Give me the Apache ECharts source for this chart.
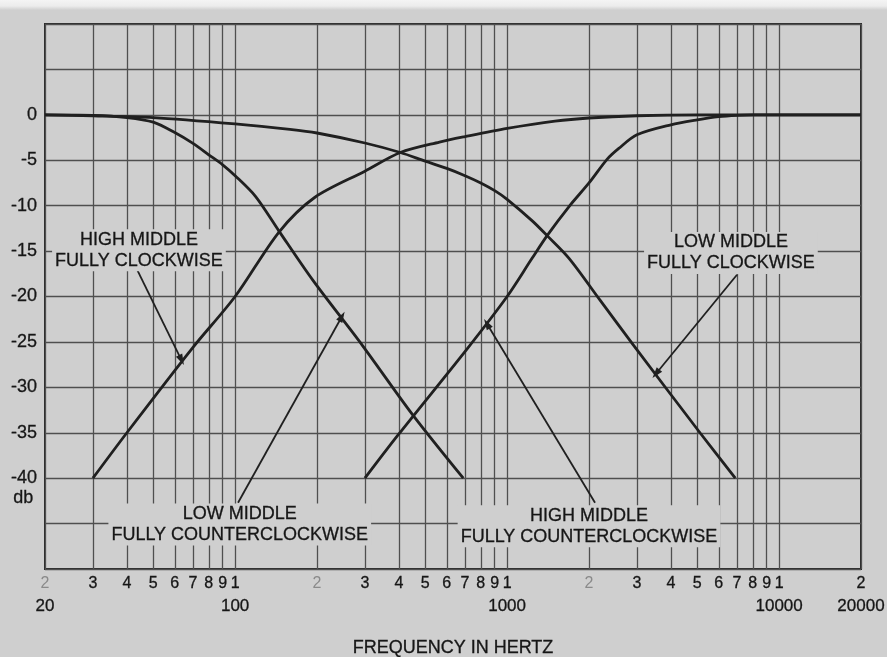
<!DOCTYPE html>
<html>
<head>
<meta charset="utf-8">
<script src="https://cdn.jsdelivr.net/npm/echarts@6/dist/echarts.min.js"></script>
<style>
  html, body { margin: 0; padding: 0; background: #d0d0d0; }
  #chart { width: 887px; height: 657px; }
</style>
</head>
<body>
<div id="chart"></div>
<script>
// Middle-band control response: gain in dB against frequency (log scale)

// HIGH MIDDLE, fully clockwise
const highMidCwFreq = [30, 40, 70, 100, 145, 196, 300, 405, 564, 700, 1000, 1500, 2000, 3000, 5000, 20000];
const highMidCwDb   = [-40, -35, -25.6, -20, -12.9, -9.1, -6.2, -4.15, -3.0, -2.4, -1.5, -0.7, -0.35, -0.1, 0, 0];

// LOW MIDDLE, fully counterclockwise
const lowMidCcwFreq = [20, 30, 40, 50, 60, 70, 80, 90, 100, 119, 145, 193, 294, 449, 690];
const lowMidCcwDb   = [0, -0.05, -0.3, -0.8, -1.95, -3.15, -4.4, -5.5, -6.7, -9.0, -12.8, -18.2, -25.4, -33, -40];

// HIGH MIDDLE, fully counterclockwise
const highMidCcwFreq = [300, 396, 707, 1000, 1235, 1403, 1689, 2000, 2330, 2574, 3000, 4000, 5000, 6000, 7000, 8000, 20000];
const highMidCcwDb   = [-40, -35.3, -25.9, -20, -15.8, -13.3, -10.1, -7.5, -4.9, -3.7, -2.2, -1.1, -0.55, -0.2, -0.05, 0, 0];

// LOW MIDDLE, fully clockwise
const lowMidCwFreq = [20, 30, 50, 100, 159, 200, 300, 405, 500, 600, 700, 800, 900, 1000, 1240, 1403, 1689, 2196, 2904, 5117, 6900];
const lowMidCwDb   = [0, -0.1, -0.3, -1.0, -1.6, -2.0, -3.1, -4.15, -5.1, -5.9, -6.7, -7.5, -8.35, -9.3, -11.7, -13.3, -15.8, -20.4, -25.3, -35.0, -40];

// Frequency rulings and their tick labels
const gridFreqs = [20, 30, 40, 50, 60, 70, 80, 90,
                   100, 200, 300, 400, 500, 600, 700, 800, 900,
                   1000, 2000, 3000, 4000, 5000, 6000, 7000, 8000, 9000,
                   10000, 20000];
const tickDigits = ['2', '3', '4', '5', '6', '7', '8', '9',
                    '1', '2', '3', '4', '5', '6', '7', '8', '9',
                    '1', '2', '3', '4', '5', '6', '7', '8', '9',
                    '1', '2'];
const decadeLabels = ['20', '', '', '', '', '', '', '',
                      '100', '', '', '', '', '', '', '', '',
                      '1000', '', '', '', '', '', '', '', '',
                      '10000', '20000'];
const lightTicks = [20, 200, 2000];

// Curve captions and their pointers, in (Hz, dB)
const captionText = [
  'HIGH MIDDLE\nFULLY CLOCKWISE',
  'LOW MIDDLE\nFULLY COUNTERCLOCKWISE',
  'HIGH MIDDLE\nFULLY COUNTERCLOCKWISE',
  'LOW MIDDLE\nFULLY CLOCKWISE'
];
const captionAt = [[44.3, -14.9], [104, -45.1], [2000, -45.3], [6650, -15.2]];
const pointerFrom = [[43.7, -17.1], [102.5, -42.7], [2105, -42.7], [7000, -17.6]];
const pointerTo = [[63.5, -27.0], [247, -22.2], [843, -23.0], [3525, -28.5]];

const PAPER = '#cfcfcf';
const INK = '#161616';
const FONT = '"Liberation Sans", Arial, Helvetica, sans-serif';
// a hairline outline in the ink colour gives the lettering a slightly heavier stroke
const HEAVY = { textBorderColor: INK, textBorderWidth: 0.3 };

const pairs = (fs, ds) => fs.map((f, i) => [f, ds[i]]);

const curveStyle = { color: '#202020', width: 2.8 };

const gridLineData = gridFreqs.map((f, i) => {
  const key = lightTicks.includes(f) ? 'm' : 'd';
  const rows = ['{' + key + '|' + tickDigits[i] + '}'];
  if (decadeLabels[i]) rows.push('{n|' + decadeLabels[i] + '}');
  return { xAxis: f, label: { formatter: rows.join('\n') } };
});

const pointerData = pointerFrom.map((p, i) => [
  { coord: p, symbol: 'none' },
  { coord: pointerTo[i], symbol: 'triangle', symbolSize: [7, 11] }
]);

const captionData = captionText.map((t, i) => ({
  coord: captionAt[i],
  label: { formatter: t }
}));

const chart = echarts.init(document.getElementById('chart'), null, { renderer: 'canvas' });

chart.setOption({
  backgroundColor: PAPER,
  animation: false,
  textStyle: { fontFamily: FONT },
  grid: {
    left: 45, right: 26, top: 24, bottom: 88,
    outerBoundsMode: 'none', containLabel: false,
    show: true, borderColor: '#2a2a2a', borderWidth: 2, backgroundColor: 'transparent'
  },
  xAxis: {
    type: 'log', logBase: 10, min: 20, max: 20000,
    name: 'FREQUENCY IN HERTZ', nameLocation: 'middle', nameGap: 70,
    nameTextStyle: Object.assign({ fontSize: 18, color: INK, fontFamily: FONT }, HEAVY),
    axisLine: { show: false }, axisTick: { show: false },
    axisLabel: { show: false }, splitLine: { show: false }, minorSplitLine: { show: false }
  },
  yAxis: {
    type: 'value', min: -50, max: 10, interval: 5,
    axisLine: { show: false }, axisTick: { show: false },
    axisLabel: Object.assign({
      margin: 8, fontSize: 18, color: INK, fontFamily: FONT,
      formatter: v => (v <= 0 && v >= -40 ? String(v) : '')
    }, HEAVY),
    splitLine: { show: true, lineStyle: { color: '#4f4f4f', width: 1.3 } }
  },
  graphic: [
    {
      type: 'rect', left: 0, top: 0, silent: true,
      shape: { width: 887, height: 10 },
      style: {
        fill: new echarts.graphic.LinearGradient(0, 0, 0, 1, [
          { offset: 0, color: '#f4f4f4' }, { offset: 0.6, color: '#ececec' }, { offset: 1, color: PAPER }
        ])
      }
    },
    {
      type: 'text', left: 13, top: 489, silent: true,
      style: { text: 'db', fill: INK, font: '18px ' + FONT, stroke: INK, lineWidth: 0.3 }
    }
  ],
  series: [
    {
      type: 'line', name: 'HIGH MIDDLE FULLY CLOCKWISE',
      data: pairs(highMidCwFreq, highMidCwDb),
      smooth: 0.3, showSymbol: false, z: 3,
      lineStyle: curveStyle,
      markLine: {
        z: 1, silent: true, animation: false,
        symbol: ['none', 'none'],
        lineStyle: { type: 'solid', color: '#4f4f4f', width: 1.3 },
        emphasis: { disabled: true },
        label: {
          show: true, position: 'start', distance: 5,
          rich: {
            d: Object.assign({ fontSize: 16, lineHeight: 20, color: INK, fontFamily: FONT }, HEAVY),
            m: { fontSize: 16, lineHeight: 20, color: '#8a8a8a', fontFamily: FONT },
            n: Object.assign({ fontSize: 17, lineHeight: 24, color: INK, fontFamily: FONT }, HEAVY)
          }
        },
        data: gridLineData
      }
    },
    {
      type: 'line', name: 'LOW MIDDLE FULLY COUNTERCLOCKWISE',
      data: pairs(lowMidCcwFreq, lowMidCcwDb),
      smooth: 0.3, showSymbol: false, z: 3,
      lineStyle: curveStyle,
      markLine: {
        silent: true, animation: false,
        symbol: ['none', 'triangle'],
        lineStyle: { type: 'solid', color: '#202020', width: 1.8 },
        itemStyle: { color: '#202020' },
        emphasis: { disabled: true },
        label: { show: false },
        data: pointerData
      }
    },
    {
      type: 'line', name: 'HIGH MIDDLE FULLY COUNTERCLOCKWISE',
      data: pairs(highMidCcwFreq, highMidCcwDb),
      smooth: 0.3, showSymbol: false, z: 3,
      lineStyle: curveStyle,
      markPoint: {
        silent: true, animation: false,
        symbol: 'rect', symbolSize: 1,
        itemStyle: { color: 'rgba(0,0,0,0)' },
        emphasis: { disabled: true },
        label: Object.assign({
          show: true, position: 'inside',
          fontSize: 18, lineHeight: 21, color: INK, fontFamily: FONT,
          backgroundColor: PAPER, padding: [0, 3]
        }, HEAVY),
        data: captionData
      }
    },
    {
      type: 'line', name: 'LOW MIDDLE FULLY CLOCKWISE',
      data: pairs(lowMidCwFreq, lowMidCwDb),
      smooth: 0.3, showSymbol: false, z: 3,
      lineStyle: curveStyle
    }
  ]
});
</script>
</body>
</html>
